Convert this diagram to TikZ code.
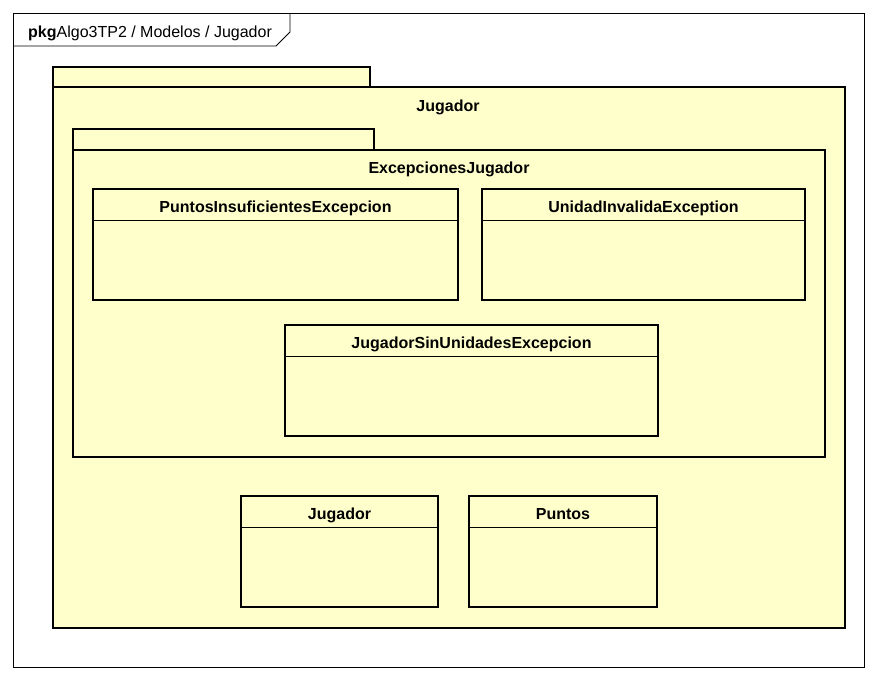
\documentclass[tikz,border=0pt]{standalone}
\usepackage{fontspec}
\setmainfont{Liberation Sans}
\usetikzlibrary{calc}
\definecolor{umlfill}{RGB}{255,255,204}
\tikzset{
  frameline/.style={draw=black, line width=0.9pt},
  pkgline/.style={draw=black, line width=2.6pt, fill=umlfill},
  classbox/.style={draw=black, line width=2.6pt, fill=umlfill, rectangle, inner sep=0pt, outer sep=0pt, anchor=north west},
  sepline/.style={draw=black, line width=0.9pt},
  boldlabel/.style={font=\bfseries\fontsize{16}{18}\selectfont, inner sep=0pt, anchor=base},
}
\newcommand{\umlclass}[6]{%
  % #1 name, #2 x, #3 y, #4 width, #5 height, #6 title
  \node[classbox, minimum width=#4pt, minimum height=#5pt] (#1) at (#2,#3) {};
  \node[boldlabel] (#1-t) at ($(#1.north)+(0,23)$) {#6};
  \draw[sepline] ($(#1.north west)+(0,31)$) -- ($(#1.north east)+(0,31)$);
}
\begin{document}
\begin{tikzpicture}[x=1pt, y=-1pt]
  \useasboundingbox (0,0) rectangle (877,680);
  \fill[white] (0,0) rectangle (877,680);

  % diagram frame with its heading tab
  \node[frameline, rectangle, minimum width=851pt, minimum height=654pt, anchor=north west, inner sep=0pt, outer sep=0pt] (frame) at (13,13) {};
  \coordinate (tabA) at (290,13);
  \coordinate (tabB) at (290,32);
  \coordinate (tabC) at (276,46);
  \coordinate (tabD) at (13,46);
  \draw[frameline] (tabA) -- (tabB) -- (tabC) -- (tabD);
  \node[inner sep=0pt, anchor=base west, font=\fontsize{16}{18}\selectfont] (heading) at (28,37) {\textbf{pkg}Algo3TP2 / Modelos / Jugador};

  % package Jugador
  \draw[pkgline] (53,67) rectangle (370,87);
  \node[classbox, minimum width=792pt, minimum height=541pt] (pkgJ) at (53,87) {};
  \node[boldlabel] (pkgJ-t) at (448,111) {Jugador};

  % package ExcepcionesJugador
  \draw[pkgline] (73,129) rectangle (374,150);
  \node[classbox, minimum width=752pt, minimum height=307pt] (pkgE) at (73,150) {};
  \node[boldlabel] (pkgE-t) at (449,173) {ExcepcionesJugador};

  % classes
  \umlclass{pie}{93}{189}{365}{111}{PuntosInsuficientesExcepcion}
  \umlclass{uie}{482}{189}{323}{111}{UnidadInvalidaException}
  \umlclass{jsue}{285}{325}{373}{111}{JugadorSinUnidadesExcepcion}
  \umlclass{jug}{241}{496}{197}{111}{Jugador}
  \umlclass{pts}{469}{496}{188}{111}{Puntos}
\end{tikzpicture}
\end{document}
